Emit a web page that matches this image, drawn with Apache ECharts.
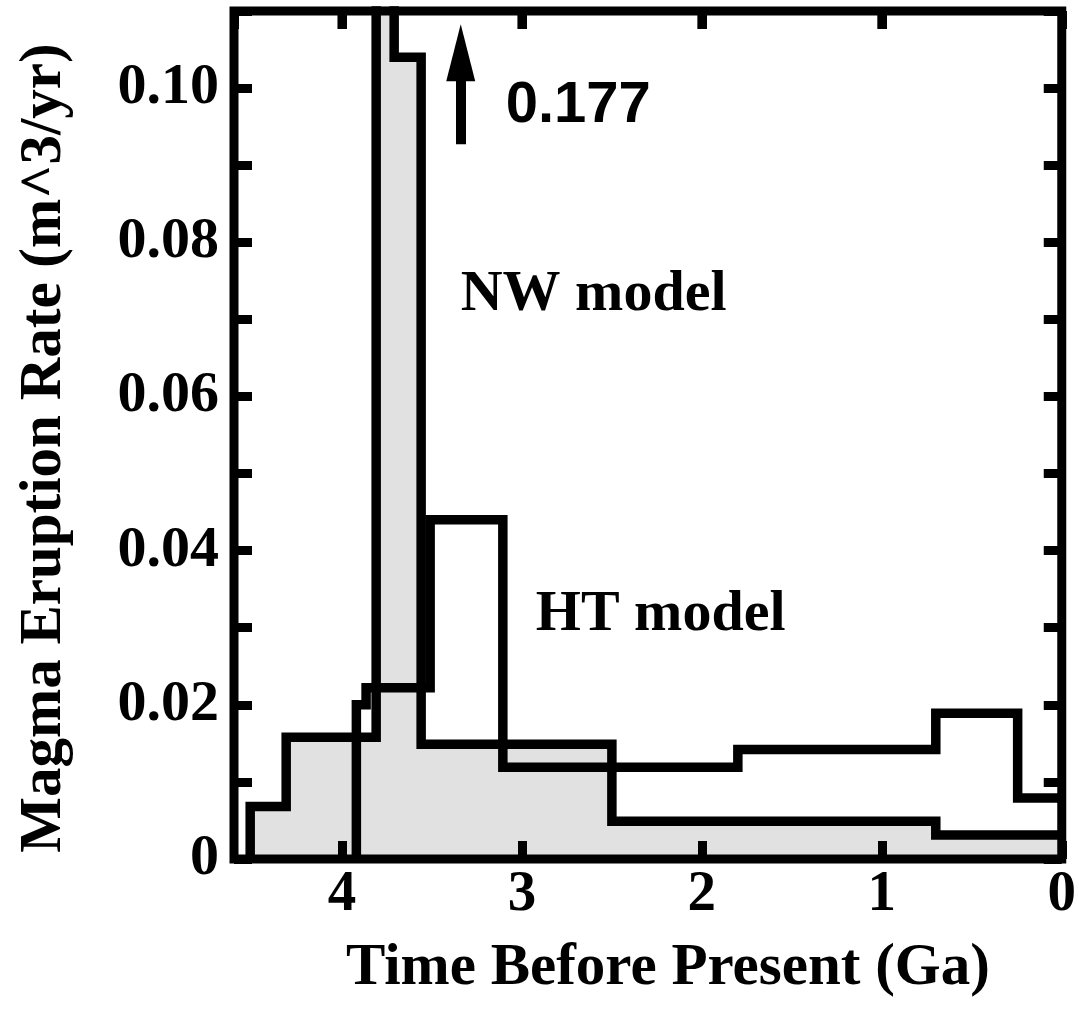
<!DOCTYPE html>
<html><head><meta charset="utf-8">
<script src="https://cdn.jsdelivr.net/npm/echarts@6/dist/echarts.min.js"></script>
<style>html,body{margin:0;padding:0;background:#fff}#c{width:1079px;height:1013px}</style>
</head><body><div id="c"></div>
<script>
// ---- data ----
const nwEdges  = [4.51, 4.31, 3.81, 3.71, 3.56, 2.50, 0.70, 0.00];   // Ga, bin edges
const nwValues = [0.0068, 0.0158, 0.177, 0.104, 0.0149, 0.0049, 0.0031];
const htEdges  = [3.92, 3.866, 3.51, 3.106, 1.80, 0.70, 0.245, 0.00];
const htValues = [0.0200, 0.0222, 0.0440, 0.0119, 0.0142, 0.0189, 0.0079];
const xTickLabels = ['0', '1', '2', '3', '4'];
const yTickLabels = ['0', '0.02', '0.04', '0.06', '0.08', '0.10'];
const peakNote = '0.177';
const nwLabel = 'NW model';
const htLabel = 'HT model';

const Y_MAX = 0.11;

function stepPoints(edges, values) {
  const pts = [[edges[0], 0]];
  for (let i = 0; i < values.length; i++) {
    pts.push([edges[i], values[i]]);
    pts.push([edges[i + 1], values[i]]);
  }
  return pts;
}

const SERIF = '"Liberation Serif", "Times New Roman", serif';
const SANS = '"Liberation Sans", Arial, sans-serif';
const LW = 9.5;

const chart = echarts.init(document.getElementById('c'), null, {renderer: 'canvas'});

function xFmt(v) {
  const r = Math.round(v);
  return (Math.abs(v - r) < 1e-6 && r >= 0 && r < xTickLabels.length) ? xTickLabels[r] : '';
}
function yFmt(v) {
  const k = Math.round(v * 100);
  if (Math.abs(v * 100 - k) > 1e-6) return '';
  return (k % 2 === 0 && k / 2 < yTickLabels.length) ? yTickLabels[k / 2] : '';
}

function tick() { return {show: true, inside: true, length: 18, lineStyle: {color: '#000', width: 9}}; }
function noLine() { return {show: false, onZero: false}; }

chart.setOption({
  animation: false,
  backgroundColor: '#fff',
  grid: {left: 234, right: 15, top: 11, bottom: 154, show: true, borderWidth: 9, borderColor: '#000', z: 10},
  xAxis: [{
    type: 'value', min: 0, max: 4.6, interval: 1, inverse: true, position: 'bottom', z: 10,
    axisLine: noLine(), axisTick: tick(), splitLine: {show: false},
    axisLabel: {formatter: xFmt, margin: 8, color: '#000', fontFamily: SERIF, fontWeight: 'bold', fontSize: 57, showMaxLabel: false},
    name: 'Time Before Present (Ga)', nameLocation: 'middle', nameGap: 80,
    nameTextStyle: {color: '#000', fontFamily: SERIF, fontWeight: 'bold', fontSize: 59, padding: [0, 0, 0, 40]}
  }, {
    type: 'value', min: 0, max: 4.6, interval: 1, inverse: true, position: 'top', z: 10,
    axisLine: noLine(), axisTick: tick(), splitLine: {show: false}, axisLabel: {show: false}
  }],
  yAxis: [{
    type: 'value', min: 0, max: Y_MAX, interval: 0.01, position: 'left', z: 10,
    axisLine: noLine(), axisTick: tick(), splitLine: {show: false},
    axisLabel: {formatter: yFmt, margin: 15, color: '#000', fontFamily: SERIF, fontWeight: 'bold', fontSize: 58},
    name: 'Magma Eruption Rate (m^3/yr)', nameLocation: 'middle', nameGap: 160, nameRotate: 90,
    nameTextStyle: {color: '#000', fontFamily: SERIF, fontWeight: 'bold', fontSize: 59, padding: [0, 26, 0, 0]}
  }, {
    type: 'value', min: 0, max: Y_MAX, interval: 0.01, position: 'right', z: 10,
    axisLine: noLine(), axisTick: tick(), splitLine: {show: false}, axisLabel: {show: false}
  }],
  series: [{
    type: 'line', name: nwLabel, data: stepPoints(nwEdges, nwValues), symbol: 'none', clip: true, z: 2,
    lineStyle: {color: '#000', width: LW, join: 'miter', cap: 'butt'},
    areaStyle: {color: '#e1e1e1', opacity: 1}
  }, {
    type: 'line', name: htLabel, data: stepPoints(htEdges, htValues), symbol: 'none', clip: true, z: 3,
    lineStyle: {color: '#000', width: LW, join: 'miter', cap: 'butt'},
    markLine: {
      silent: true, symbol: ['none', 'triangle'], symbolSize: [29, 57], animation: false,
      lineStyle: {color: '#000', width: 10, type: 'solid'}, label: {show: false},
      data: [[{coord: [3.34, 0.0927]}, {coord: [3.34, 0.1046]}]]
    }
  }]
});

function px(x, y) { return chart.convertToPixel({xAxisIndex: 0, yAxisIndex: 0}, [x, y]); }
const pNW = px(3.34, 0.0731), pHT = px(2.923, 0.0317), pPk = px(3.09, 0.0977);

// top-edge ticks at the labelled x positions (1..4), placed through the x scale
const topTickGraphics = xTickLabels.map(Number).filter(v => v > 0).map(v => {
  const p = px(v, Y_MAX);
  return {type: 'line', z: 30, silent: true,
    shape: {x1: p[0], y1: p[1], x2: p[0], y2: p[1] + 18},
    style: {stroke: '#000', lineWidth: 9, lineCap: 'butt'}};
});

chart.setOption({
  graphic: topTickGraphics.concat([
    {type: 'text', x: pNW[0], y: pNW[1], z: 20, style: {text: nwLabel, fill: '#000', font: 'bold 58px ' + SERIF, textAlign: 'left', textVerticalAlign: 'middle'}},
    {type: 'text', x: pHT[0], y: pHT[1], z: 20, style: {text: htLabel, fill: '#000', font: 'bold 58px ' + SERIF, textAlign: 'left', textVerticalAlign: 'middle'}},
    {type: 'text', x: pPk[0], y: pPk[1], z: 20, style: {text: peakNote, fill: '#000', font: 'bold 58px ' + SANS, textAlign: 'left', textVerticalAlign: 'middle'}}
  ])
});
</script></body></html>
